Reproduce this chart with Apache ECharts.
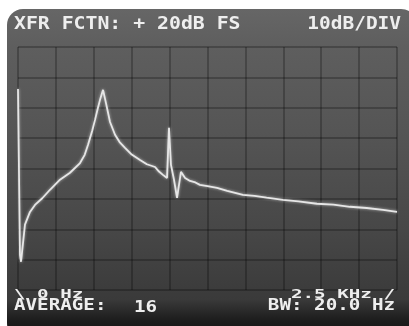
<!DOCTYPE html>
<html><head><meta charset="utf-8">
<script src="https://cdn.jsdelivr.net/npm/echarts@6/dist/echarts.min.js"></script>
<style>html,body{margin:0;padding:0;background:#fff;}#c{width:409px;height:326px;}</style>
</head><body><div id="c"></div>
<script>
// Transfer function trace (frequency kHz, level dB)
const freqKHz = [0, 0.13, 0.2, 0.46, 0.79, 1.12, 1.6, 2.11, 2.77, 3.43, 4.09, 4.4, 4.62, 4.9, 5.08, 5.25, 5.41, 5.61, 5.8, 6.07, 6.4, 6.7, 7.06, 7.5, 8.05, 8.5, 9.04, 9.3, 9.56, 9.83, 9.96, 10.09, 10.29, 10.49, 10.75, 11.02, 11.35, 11.7, 12.0, 12.5, 13.13, 13.8, 14.84, 15.6, 16.4, 17.48, 18.5, 19.72, 20.8, 21.9, 23.0, 24.08, 25.0];
const levelDb = [6.2, -48.4, -50.7, -38.5, -34.3, -32.0, -29.8, -27.0, -23.7, -21.4, -18.2, -15.5, -12.2, -7.5, -4.0, -0.5, 2.6, 5.9, 1.6, -4.7, -8.9, -11.3, -13.2, -15.4, -17.2, -18.6, -19.5, -21.0, -22.1, -23.1, -6.6, -18.8, -23.7, -29.7, -21.1, -23.1, -24.1, -24.6, -25.4, -25.8, -26.4, -27.4, -28.7, -29.0, -29.6, -30.3, -30.8, -31.6, -31.9, -32.6, -33.0, -33.6, -34.3];
const xTicks = [0, 2.5, 5, 7.5, 10, 12.5, 15, 17.5, 20, 22.5, 25];
const yTicks = [-60, -50, -40, -30, -20, -10, 0, 10, 20];
const headerLeft = 'XFR FCTN: + 20dB FS';
const headerRight = '10dB/DIV';
const footer = ['\\ 0 Hz', 'AVERAGE:', '16', '2.5 KHz /', 'BW: 20.0 Hz'];

const chart = echarts.init(document.getElementById('c'), null, {renderer: 'canvas'});
const txt = (t, x, y, align, size, sx, sy) => ({
  type: 'text', x: x, y: y, scaleX: sx, scaleY: sy, z: 10,
  style: {text: t, fill: '#eeeeee', font: 'bold ' + size + 'px "DejaVu Sans Mono"',
          textAlign: align, textVerticalAlign: 'middle', shadowBlur: 3, shadowColor: 'rgba(255,255,255,0.5)'}
});
chart.setOption({
  animation: false,
  backgroundColor: '#ffffff',
  graphic: [
    {type: 'rect', shape: {x: 7, y: 9, width: 410, height: 330, r: 16}, z: -10,
     style: {fill: new echarts.graphic.LinearGradient(0, 0, 0, 1, [
       {offset: 0, color: '#666666'}, {offset: 0.115, color: '#5e5e5e'}, {offset: 0.37, color: '#555555'},
       {offset: 0.67, color: '#474747'}, {offset: 0.88, color: '#3a3a3a'}, {offset: 0.94, color: '#1e1e1e'}, {offset: 1, color: '#111111'}])}},
    txt(headerLeft, 14, 24, 'left', 18, 1.1, 1),
    txt(headerRight, 401, 24, 'right', 18, 1.08, 1),
    txt(footer[0], 14, 295, 'left', 16, 1.2, 0.8),
    txt(footer[1], 14, 306, 'left', 16, 1.2, 0.95),
    txt(footer[2], 134, 308, 'left', 16, 1.2, 0.95),
    txt(footer[3], 395, 295, 'right', 16, 1.2, 0.8),
    txt(footer[4], 395, 306, 'right', 16, 1.2, 0.95)
  ],
  grid: {left: 18, top: 47, width: 379, height: 243, containLabel: false},
  xAxis: {type: 'value', min: xTicks[0], max: xTicks[xTicks.length - 1], interval: 2.5,
    axisLine: {show: false}, axisTick: {show: false}, axisLabel: {show: false},
    splitLine: {show: true, lineStyle: {color: 'rgba(0,0,0,0.32)', width: 1.5}}},
  yAxis: {type: 'value', min: yTicks[0], max: yTicks[yTicks.length - 1], interval: 10,
    axisLine: {show: false}, axisTick: {show: false}, axisLabel: {show: false},
    splitLine: {show: true, lineStyle: {color: 'rgba(0,0,0,0.32)', width: 1.5}}},
  series: [{
    type: 'line', data: freqKHz.map((f, i) => [f, levelDb[i]]),
    showSymbol: false, smooth: false,
    lineStyle: {color: '#e6e6e6', width: 1.8, shadowBlur: 3, shadowColor: 'rgba(255,255,255,0.6)'}
  }]
});
</script></body></html>
